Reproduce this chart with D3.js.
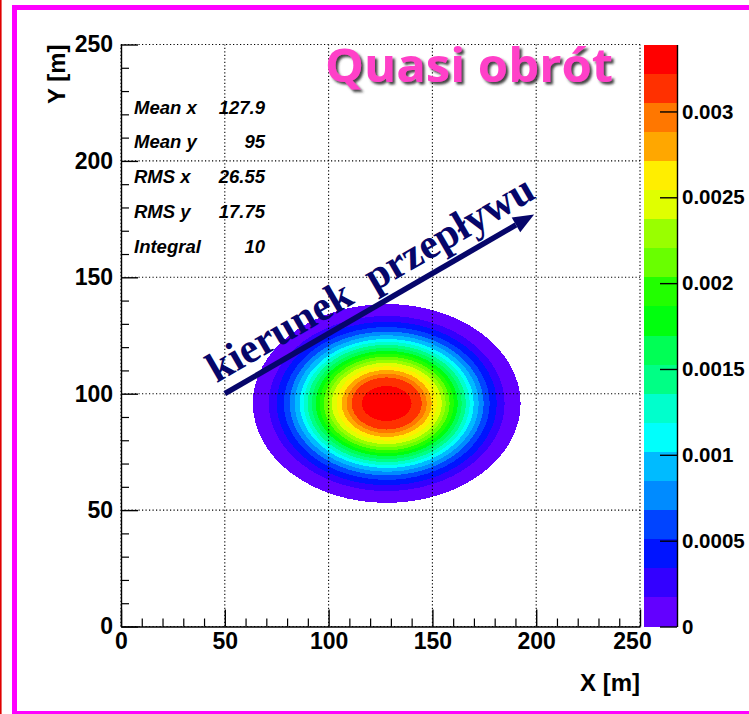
<!DOCTYPE html>
<html>
<head>
<meta charset="utf-8">
<script src="https://cdn.jsdelivr.net/npm/d3@7"></script>
<style>
  body { margin: 0; background: #fff; }
  svg { display: block; }
</style>
</head>
<body>
<svg id="chart" width="749" height="714"></svg>
<script>
// ---- axis ticks ----
const xMajorTicks = [0, 50, 100, 150, 200, 250];
const yMajorTicks = [0, 50, 100, 150, 200, 250];
const zTicks = [0, 0.0005, 0.001, 0.0015, 0.002, 0.0025, 0.003];
const zMax = 0.00339;
const nLevels = 20;

// ---- contour rings of the 2D histogram (level index -> semi-axes in metres) ----
const levelIndex = [0, 1, 2, 3, 4, 5, 6, 7, 8, 9, 10, 11, 12, 13, 14, 15, 16, 17, 18, 19];
const ringRx = [64.5, 56.8, 53.0, 49.6, 46.7, 44.3, 41.9, 40.0, 38.1, 36.1, 34.2, 32.3, 30.3, 28.4, 26.5, 24.1, 21.7, 19.3, 16.9, 12.0];
const ringRy = [42.7, 37.6, 35.1, 32.8, 30.9, 29.3, 27.7, 26.5, 25.2, 23.9, 22.6, 21.4, 20.1, 18.8, 17.5, 16.0, 14.4, 12.8, 11.2, 7.5];
const ringCenter = [128.0, 95.8];

// ---- statistics box ----
const statLabels = ["Mean x", "Mean y", "RMS x", "RMS y", "Integral"];
const statValues = ["127.9", "95", "26.55", "17.75", "10"];

// ---- flow direction annotation (metres) ----
const arrowFrom = [50, 100];
const arrowTo = [199, 177];
const arrowLabel = "kierunek  przepływu";
const titleText = "Quasi obrót";

const svg = d3.select("#chart");
const FONT = "'Liberation Sans', Arial, Helvetica, sans-serif";

const x = d3.scaleLinear().domain([0, 250]).range([121, 640]);
const y = d3.scaleLinear().domain([0, 250]).range([626.5, 44.5]);
const z = d3.scaleLinear().domain([0, zMax]).range([626.5, 44.5]);

// ROOT "pretty palette": 50 HLS hues from violet to red, sampled for 20 contours
function levelColor(k) {
  const idx = Math.floor((k + 0.99) * 50 / nLevels);
  const hue = Math.max(280 - (idx + 1) * 5.6, 0);
  return d3.hsl(hue, 1, 0.5).formatHex();
}

// drop shadow for the title
const defs = svg.append("defs");
const f = defs.append("filter").attr("id", "titleShadow")
  .attr("x", "-5%").attr("y", "-20%").attr("width", "115%").attr("height", "150%");
f.append("feDropShadow").attr("dx", 2.5).attr("dy", 2.5).attr("stdDeviation", 0.8)
  .attr("flood-color", "#333").attr("flood-opacity", 0.9);

// page border
svg.append("line").attr("x1", 0.8).attr("x2", 0.8).attr("y1", 0).attr("y2", 714)
  .attr("stroke", "#e00000").attr("stroke-width", 1.6);
svg.append("rect").attr("x", 14.5).attr("y", 7.5).attr("width", 800).attr("height", 706)
  .attr("fill", "none").attr("stroke", "#ff00ff").attr("stroke-width", 5);

// colour contours, outermost first
const rings = svg.append("g");
levelIndex.forEach(k => {
  rings.append("ellipse")
    .attr("cx", x(ringCenter[0]))
    .attr("cy", y(ringCenter[1]))
    .attr("rx", x(ringCenter[0] + ringRx[k]) - x(ringCenter[0]))
    .attr("ry", y(ringCenter[1]) - y(ringCenter[1] + ringRy[k]))
    .attr("fill", levelColor(k))
    .attr("shape-rendering", "crispEdges");
});

// dotted grid
const grid = svg.append("g").attr("stroke", "#000").attr("stroke-width", 1.1)
  .attr("stroke-dasharray", "1.2,2.3");
xMajorTicks.forEach(v => grid.append("line")
  .attr("x1", x(v)).attr("x2", x(v)).attr("y1", y(0)).attr("y2", y(250)));
yMajorTicks.forEach(v => grid.append("line")
  .attr("y1", y(v)).attr("y2", y(v)).attr("x1", x(0)).attr("x2", x(250)));

// axes with inward ticks
const minorX = d3.range(0, 251, 10).filter(v => v % 50 !== 0);
const minorY = minorX;

function styleAxis(g) {
  g.selectAll("path, line").attr("stroke", "#000").attr("stroke-width", 1.4);
  g.selectAll("text").attr("font-family", FONT).attr("font-weight", "bold")
    .attr("font-size", 23).attr("fill", "#000");
}

const gx = svg.append("g").attr("transform", `translate(0,${y(0)})`)
  .call(d3.axisBottom(x).tickValues(xMajorTicks).tickSizeInner(-17).tickSizeOuter(0).tickPadding(6)
    .tickFormat(d3.format("d")));
styleAxis(gx);
gx.selectAll(".tick text").filter(d => d === 250).attr("dx", -8);
svg.append("g").attr("transform", `translate(0,${y(0)})`)
  .call(d3.axisBottom(x).tickValues(minorX).tickSizeInner(-8).tickSizeOuter(0).tickFormat(""))
  .call(g => { g.select(".domain").remove(); g.selectAll("line").attr("stroke", "#000").attr("stroke-width", 1.2); });

const gy = svg.append("g").attr("transform", `translate(${x(0)},0)`)
  .call(d3.axisLeft(y).tickValues(yMajorTicks).tickSizeInner(-17).tickSizeOuter(0).tickPadding(8)
    .tickFormat(d3.format("d")));
styleAxis(gy);
svg.append("g").attr("transform", `translate(${x(0)},0)`)
  .call(d3.axisLeft(y).tickValues(minorY).tickSizeInner(-8).tickSizeOuter(0).tickFormat(""))
  .call(g => { g.select(".domain").remove(); g.selectAll("line").attr("stroke", "#000").attr("stroke-width", 1.2); });

// axis titles
svg.append("text").attr("x", 640).attr("y", 691).attr("text-anchor", "end")
  .attr("font-family", FONT).attr("font-weight", "bold").attr("font-size", 24).text("X [m]");
svg.append("text").attr("transform", `translate(65,${y(250)}) rotate(-90)`).attr("text-anchor", "end")
  .attr("font-family", FONT).attr("font-weight", "bold").attr("font-size", 24).text("Y [m]");

// statistics (transparent box)
const stats = svg.append("g").attr("font-family", FONT).attr("font-weight", "bold")
  .attr("font-style", "italic").attr("font-size", 18.5).attr("fill", "#000");
statLabels.forEach((lab, i) => {
  const yy = 113.5 + i * 34.8;
  stats.append("text").attr("x", 134).attr("y", yy).text(lab);
  stats.append("text").attr("x", 265).attr("y", yy).attr("text-anchor", "end").text(statValues[i]);
});

// flow direction arrow
const navy = "#06066a";
const ax0 = x(arrowFrom[0]), ay0 = y(arrowFrom[1]);
const ax1 = x(arrowTo[0]), ay1 = y(arrowTo[1]);
const ang = Math.atan2(ay1 - ay0, ax1 - ax0);
const headLen = 21, headHalf = 8.5;
const bx = ax1 - headLen * Math.cos(ang), by = ay1 - headLen * Math.sin(ang);
svg.append("line").attr("x1", ax0).attr("y1", ay0).attr("x2", bx).attr("y2", by)
  .attr("stroke", navy).attr("stroke-width", 5.5);
svg.append("path")
  .attr("d", `M${ax1},${ay1} L${bx - headHalf * Math.sin(ang)},${by + headHalf * Math.cos(ang)} L${bx + headHalf * Math.sin(ang)},${by - headHalf * Math.cos(ang)} Z`)
  .attr("fill", navy);

// annotation text along the arrow
const angDeg = ang * 180 / Math.PI;
svg.append("text")
  .attr("transform", `translate(${x(46)},${y(104.5)}) rotate(${angDeg})`)
  .attr("font-family", "'Liberation Serif', 'Times New Roman', serif")
  .attr("font-weight", "bold").attr("font-size", 42).attr("fill", navy)
  .style("white-space", "pre").text(arrowLabel);

// title with drop shadow
const titleFont = "'Comic Sans MS', 'Open Sans', sans-serif";
svg.append("text").attr("x", 325).attr("y", 82)
  .attr("font-family", titleFont).attr("font-weight", "bold").attr("font-size", 46)
  .attr("fill", "#ff40c8").attr("filter", "url(#titleShadow)")
  .attr("textLength", 288).attr("lengthAdjust", "spacingAndGlyphs").text(titleText);

// colour bar
const cbX0 = 644, cbX1 = 677;
const step = zMax / nLevels;
const cb = svg.append("g");
levelIndex.forEach(k => {
  cb.append("rect").attr("x", cbX0).attr("width", cbX1 - cbX0)
    .attr("y", z((k + 1) * step)).attr("height", z(k * step) - z((k + 1) * step))
    .attr("fill", levelColor(k)).attr("shape-rendering", "crispEdges");
});
const gz = svg.append("g").attr("transform", `translate(${cbX1},0)`)
  .call(d3.axisRight(z).tickValues(zTicks).tickSizeInner(-17).tickSizeOuter(0).tickPadding(5)
    .tickFormat(d => String(d)));
gz.selectAll("path, line").attr("stroke", "#000").attr("stroke-width", 1.4);
gz.selectAll("text").attr("font-family", FONT).attr("font-weight", "bold")
  .attr("font-size", 20.5).attr("fill", "#000");
</script>
</body>
</html>
